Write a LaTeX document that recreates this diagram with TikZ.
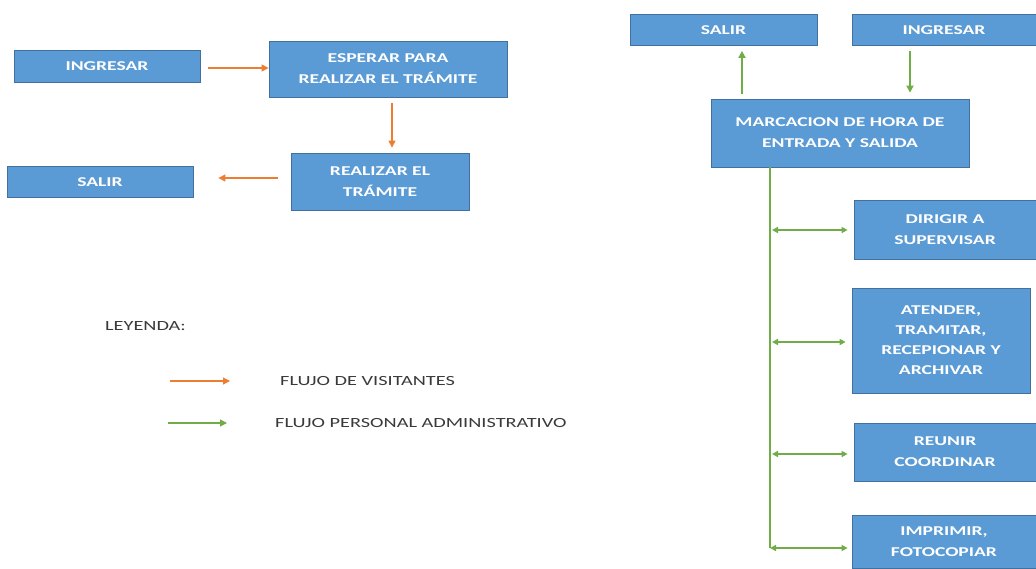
\documentclass[tikz,border=0pt]{standalone}
\usepackage{fontspec}
\setmainfont{Carlito}
\newfontfamily\boxfont[FakeStretch=1.45]{Carlito}
\usetikzlibrary{arrows.meta}
\definecolor{boxfill}{HTML}{5B9BD5}
\definecolor{boxline}{HTML}{41719C}
\definecolor{visitcol}{HTML}{ED7D31}
\definecolor{staffcol}{HTML}{70AD47}
\definecolor{legtext}{HTML}{3A3A3A}
\begin{document}
\begin{tikzpicture}[x=1pt,y=-1pt,
  box/.style={draw=boxline, line width=0.8pt, fill=boxfill, text=white,
    align=center, inner sep=0pt,
    font=\boxfont\bfseries\fontsize{13.5}{21}\selectfont},
  vflow/.style={draw=visitcol, line width=1.2pt, -{Triangle[length=7pt,width=7pt]}},
  sflow/.style={draw=staffcol, line width=1.7pt, -{Triangle[length=7pt,width=7pt]}},
  sflowboth/.style={draw=staffcol, line width=1.5pt,
    {Triangle[length=6pt,width=6pt]}-{Triangle[length=6pt,width=6pt]}},
  legendtext/.style={text=legtext, anchor=west, inner sep=0pt,
    font=\boxfont\fontsize{14}{17}\selectfont}]

\path[use as bounding box, fill=white] (0,0) rectangle (1036,568);

% visitor flow
\node[box, minimum width=186pt, minimum height=32pt] (ingV) at (107,66.5) {INGRESAR};
\node[box, minimum width=238pt, minimum height=56pt] (wait) at (388,69) {ESPERAR PARA\\REALIZAR EL TRÁMITE};
\node[box, minimum width=178pt, minimum height=57pt] (proc) at (380,181.5) {REALIZAR EL\\TRÁMITE};
\node[box, minimum width=186pt, minimum height=31pt] (outV) at (100,182) {SALIR};

\draw[vflow] ([xshift=8pt,yshift=-1.5pt]ingV.east) -- ([yshift=-1.5pt]ingV.east -| wait.west);
\draw[vflow] ([xshift=4pt,yshift=-6pt]wait.south) -- ([xshift=12pt,yshift=5pt]proc.north);
\draw[vflow] ([xshift=-13pt,yshift=3.5pt]proc.west) -- ([xshift=25pt,yshift=4pt]outV.east);

% staff flow
\node[box, minimum width=187pt, minimum height=31pt] (outS) at (723.5,30) {SALIR};
\node[box, minimum width=184pt, minimum height=31pt] (ingS) at (944,30) {INGRESAR};
\node[box, minimum width=258pt, minimum height=68pt] (clock) at (840,133) {MARCACION DE HORA DE\\ENTRADA Y SALIDA};
\node[box, minimum width=182pt, minimum height=59pt] (lead) at (945,229.5) {DIRIGIR A\\SUPERVISAR};
\node[box, minimum width=178pt, minimum height=105pt, font=\boxfont\bfseries\fontsize{13.5}{20}\selectfont] (desk) at (941,340.5) {ATENDER,\\TRAMITAR,\\RECEPIONAR Y\\ARCHIVAR};
\node[box, minimum width=182pt, minimum height=58pt] (meet) at (945,452) {REUNIR\\COORDINAR};
\node[box, minimum width=184pt, minimum height=53pt] (print) at (944,541.5) {IMPRIMIR,\\FOTOCOPIAR};

\draw[sflow] ([xshift=-98pt,yshift=5pt]clock.north) -- ([xshift=18.5pt,yshift=-5pt]outS.south);
\draw[sflow] ([xshift=-34pt,yshift=-5pt]ingS.south) -- ([xshift=70pt,yshift=6pt]clock.north);

% vertical bus with its branches
\coordinate (busTop) at (770,167);
\coordinate (busEnd) at (770,548);
\draw[draw=staffcol, line width=1.8pt] (busTop) -- (busEnd);
\draw[sflowboth, shorten <=2pt, shorten >=6pt] ([yshift=-0.5pt]lead.west -| busEnd) -- ([yshift=-0.5pt]lead.west);
\draw[sflowboth, shorten <=2pt, shorten >=6pt] ([yshift=-1.5pt]desk.west -| busEnd) -- ([yshift=-1.5pt]desk.west);
\draw[sflowboth, shorten <=2pt, shorten >=6pt] ([yshift=-2pt]meet.west -| busEnd) -- ([yshift=-2pt]meet.west);
\draw[sflowboth, shorten >=4pt] (busEnd) -- (busEnd -| print.west);

% legend
\node[legendtext] (legTitle) at (105,326) {LEYENDA:};
\node[legendtext] (legVisit) at (280,381) {FLUJO DE VISITANTES};
\node[legendtext] (legStaff) at (275,423) {FLUJO PERSONAL ADMINISTRATIVO};
\coordinate (legVisitA) at (170,381);
\coordinate (legVisitB) at (230,381);
\coordinate (legStaffA) at (168,423);
\coordinate (legStaffB) at (227,423);
\draw[vflow] (legVisitA) -- (legVisitB);
\draw[draw=staffcol, line width=1.3pt, -{Triangle[length=7pt,width=7pt]}] (legStaffA) -- (legStaffB);
\end{tikzpicture}
\end{document}
